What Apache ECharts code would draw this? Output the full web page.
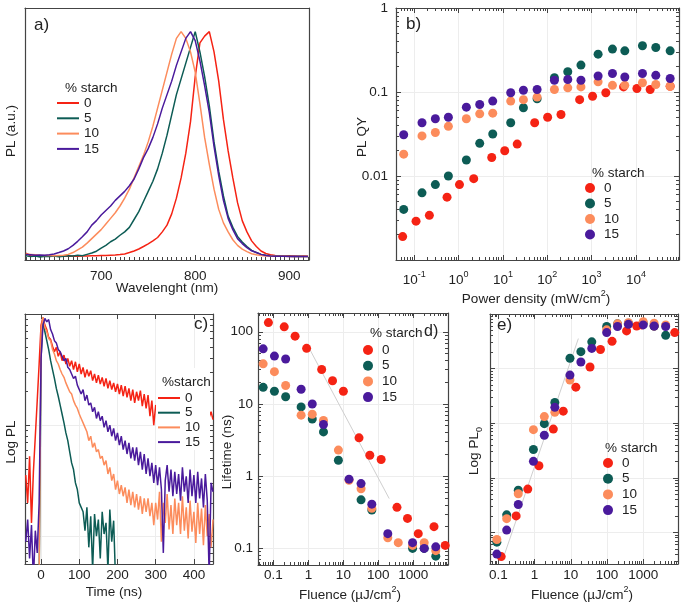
<!DOCTYPE html>
<html>
<head>
<meta charset="utf-8">
<script src="https://cdn.jsdelivr.net/npm/echarts@6/dist/echarts.min.js"></script>
<style>
  html, body { margin: 0; padding: 0; background: #fff; }
  #chart { width: 685px; height: 608px; }
</style>
</head>
<body>
<div id="chart"></div>
<script>
const FONT = '"Liberation Sans", Arial, sans-serif';
const INK = '#222';
const FRAME = '#444';
const GRIDLINE = '#ededed';
const colors = { s0: '#f52314', s5: '#0d5c55', s10: '#fc8c5c', s15: '#4a1a9c' };
const starch = ['0', '5', '10', '15'];

// a) PL spectra, sampled every 5 nm from 620 to 920 nm
const wavelength = [];
for (let w = 620; w <= 920; w += 5) wavelength.push(w);
const plRed = [
  0.015, 0.004, 0.003, 0.002, 0.003, 0.002, 0.002, 0.003, 0.002, 0.002,
  0.003, 0.002, 0.003, 0.003, 0.004, 0.004, 0.005, 0.005, 0.006, 0.007,
  0.009, 0.012, 0.018, 0.025, 0.034, 0.045, 0.057, 0.07, 0.085, 0.11,
  0.14, 0.19, 0.26, 0.35, 0.46, 0.60, 0.80, 0.95, 0.98, 1.00,
  0.91, 0.78, 0.61, 0.47, 0.35, 0.24, 0.16, 0.11, 0.07, 0.045,
  0.025, 0.014, 0.008, 0.005, 0.004, 0.003, 0.004, 0.003, 0.002, 0.003, 0.002];
const plGreen = [
  0.004, 0.0, 0.003, -0.002, 0.002, 0.0, 0.003, -0.001, 0.002, 0.004,
  0.003, 0.006, 0.004, 0.01, 0.016, 0.024, 0.038, 0.05, 0.066, 0.078,
  0.095, 0.11, 0.13, 0.165, 0.20, 0.245, 0.29, 0.335, 0.39, 0.46,
  0.54, 0.63, 0.72, 0.79, 0.86, 0.93, 1.00, 0.91, 0.80, 0.67,
  0.51, 0.38, 0.27, 0.18, 0.13, 0.09, 0.065, 0.045, 0.028, 0.018,
  0.01, 0.006, 0.004, 0.003, 0.003, 0.002, 0.002, 0.001, 0.002, 0.001, 0.001];
const plOrange = [
  0.012, 0.010, 0.008, 0.006, 0.005, 0.005, 0.004, 0.005, 0.006, 0.010,
  0.018, 0.030, 0.042, 0.060, 0.080, 0.10, 0.12, 0.145, 0.17, 0.195,
  0.225, 0.26, 0.30, 0.35, 0.40, 0.45, 0.51, 0.58, 0.66, 0.74,
  0.82, 0.90, 0.97, 1.00, 0.97, 0.91, 0.82, 0.68, 0.53, 0.41,
  0.30, 0.21, 0.15, 0.11, 0.075, 0.05, 0.033, 0.022, 0.013, 0.008,
  0.005, 0.003, 0.003, 0.002, 0.002, 0.002, 0.001, 0.002, 0.001, 0.001, 0.001];
const plPurple = [
  0.010, 0.008, 0.006, 0.007, 0.006, 0.008, 0.012, 0.018, 0.025, 0.035,
  0.050, 0.068, 0.088, 0.11, 0.14, 0.16, 0.185, 0.205, 0.225, 0.25,
  0.27, 0.29, 0.315, 0.345, 0.39, 0.44, 0.48, 0.53, 0.59, 0.66,
  0.72, 0.78, 0.85, 0.91, 0.97, 1.00, 0.96, 0.87, 0.76, 0.64,
  0.49, 0.36, 0.25, 0.17, 0.12, 0.08, 0.058, 0.04, 0.026, 0.018,
  0.010, 0.005, 0.003, 0.002, 0.002, 0.002, 0.001, 0.002, 0.001, 0.001, 0.001];

// b) PL QY vs power density (mW/cm2)
const bPowerRed = [0.055, 0.11, 0.22, 0.55, 1.05, 2.2, 5.6, 11, 21, 52, 102, 204, 537, 1050, 2090, 5250, 10500, 20900, 59000];
const bQyRed = [0.0019, 0.0029, 0.0034, 0.0056, 0.0079, 0.0093, 0.0166, 0.020, 0.024, 0.043, 0.050, 0.054, 0.081, 0.089, 0.098, 0.115, 0.110, 0.107, 0.117];
const bPower = [0.058, 0.15, 0.30, 0.59, 1.5, 3.0, 5.9, 15, 29, 59, 145, 290, 575, 1400, 2950, 5600, 14000, 28000, 59000];
const bQyGreen = [0.0040, 0.0063, 0.0079, 0.010, 0.0155, 0.0245, 0.0316, 0.043, 0.065, 0.083, 0.148, 0.174, 0.209, 0.282, 0.324, 0.309, 0.355, 0.339, 0.309];
const bQyOrange = [0.0182, 0.030, 0.033, 0.039, 0.048, 0.055, 0.056, 0.078, 0.081, 0.087, 0.107, 0.112, 0.115, 0.132, 0.120, 0.120, 0.129, 0.123, 0.117];
const bQyPurple = [0.031, 0.043, 0.048, 0.050, 0.066, 0.071, 0.078, 0.098, 0.105, 0.107, 0.138, 0.141, 0.138, 0.155, 0.166, 0.151, 0.166, 0.158, 0.145];

// c) log10 of PL counts, sampled every 5 ns from -40 to 450 ns
const timeNs = [];
for (let t = -40; t <= 450; t += 5) timeNs.push(t);
const logPlRed = [
  0.55, 0.30, 0.72, 0.12, 0.58, 0.90, 1.22, 1.55, 1.90, 1.97,
  1.90, 1.86, 1.79, 1.77, 1.71, 1.66, 1.70, 1.62, 1.66, 1.58,
  1.63, 1.55, 1.60, 1.53, 1.58, 1.50, 1.57, 1.48, 1.55, 1.46,
  1.52, 1.43, 1.50, 1.44, 1.49, 1.40, 1.46, 1.38, 1.45, 1.37,
  1.43, 1.35, 1.42, 1.33, 1.40, 1.32, 1.38, 1.30, 1.37, 1.28,
  1.36, 1.26, 1.35, 1.25, 1.33, 1.22, 1.32, 1.20, 1.30, 1.22,
  1.31, 1.17, 1.28, 1.15, 1.27, 1.08, 1.22, 1.00, 1.18, 1.14,
  1.22, 1.10, 1.20, 1.12, 1.19, 1.08, 1.18, 1.10, 1.16, 1.06,
  1.15, 1.08, 1.14, 1.04, 1.13, 1.06, 1.12, 1.02, 1.11, 1.04,
  1.10, 1.00, 1.09, 1.02, 1.08, 0.98, 1.07, 1.12, 1.05];
const logPlGreen = [
  null, null, null, null, null, null, null, -0.40, 1.60, 1.95,
  1.84, 1.76, 1.68, 1.58, 1.50, 1.42, 1.33, 1.26, 1.18, 1.10,
  1.02, 0.93, 0.86, 0.76, 0.66, 0.60, 0.48, 0.42, 0.30, 0.30,
  0.22, 0.05, 0.26, -0.10, 0.18, -0.30, 0.20, 0.00, 0.15, -0.20,
  0.22, 0.02, 0.12, -0.30, 0.24, -0.05, 0.14, -0.40];
const logPlOrange = [
  null, null, null, null, null, null, null, -0.40, 1.85, 1.97,
  1.88, 1.84, 1.78, 1.76, 1.68, 1.64, 1.58, 1.55, 1.50, 1.46,
  1.43, 1.38, 1.34, 1.30, 1.28, 1.22, 1.18, 1.15, 1.10, 1.06,
  1.02, 0.98, 0.94, 0.86, 0.90, 0.80, 0.84, 0.76, 0.78, 0.70,
  0.72, 0.64, 0.68, 0.56, 0.62, 0.50, 0.56, 0.42, 0.50, 0.38,
  0.46, 0.36, 0.44, 0.30, 0.42, 0.28, 0.40, 0.26, 0.38, 0.24,
  0.36, 0.20, 0.34, 0.22, 0.34, 0.18, 0.30, 0.10, 0.30, 0.15,
  0.40, -0.05, 0.30, 0.12, 0.38, 0.06, 0.28, 0.02, 0.34, 0.10,
  0.30, 0.02, 0.36, 0.05, 0.26, -0.02, 0.32, 0.04, 0.22, -0.06,
  0.30, 0.02, 0.25, -0.08, 0.28, 0.00, 0.20, -0.10, 0.15];
const logPlPurple = [
  -0.05, 0.15, -0.20, 0.10, -0.40, 0.05, -0.15, 0.30, 1.60, 1.90,
  1.96, 1.93, 1.95, 1.86, 1.82, 1.76, 1.74, 1.68, 1.66, 1.62,
  1.58, 1.60, 1.52, 1.50, 1.46, 1.42, 1.44, 1.36, 1.36, 1.28,
  1.32, 1.22, 1.27, 1.18, 1.20, 1.12, 1.16, 1.06, 1.12, 1.04,
  1.08, 0.98, 1.04, 0.94, 1.00, 0.90, 0.97, 0.86, 0.93, 0.82,
  0.90, 0.78, 0.86, 0.74, 0.84, 0.70, 0.80, 0.68, 0.80, 0.64,
  0.76, 0.60, 0.74, 0.56, 0.70, 0.54, 0.66, 0.48, 0.64, 0.46,
  0.62, 0.42, -0.15, 0.50, 0.64, 0.40, 0.60, 0.36, 0.58, 0.38,
  0.56, 0.32, 0.62, 0.40, 0.54, 0.30, 0.60, 0.36, 0.55, 0.30,
  0.58, 0.34, 0.52, 0.26, 0.56, 0.32, -0.35, 0.48, 0.40];

// d) lifetime (ns) vs fluence (uJ/cm2)
const dFluenceRed = [0.072, 0.204, 0.417, 0.89, 2.4, 4.9, 10, 28, 57, 120, 340, 680, 1380, 3890, 8130];
const dLifeRed = [134, 117, 87, 59, 30, 21, 15, 3.4, 1.95, 1.7, 0.37, 0.26, 0.16, 0.20, 0.11];
const dFluence = [0.051, 0.107, 0.224, 0.62, 1.29, 2.7, 7.2, 14.5, 32, 65, 186, 370, 950, 2040, 4370];
const dLifeGreen = [17, 15, 12.6, 9.1, 6.2, 4.1, 1.66, null, 0.47, 0.34, null, null, 0.10, 0.10, 0.078];
const dLifeOrange = [36, 28, 18, 7.0, 7.2, 5.9, 2.3, 0.88, 0.67, 0.36, 0.14, 0.12, 0.11, 0.12, 0.093];
const dLifePurple = [58, 46, 42, 16, 10, 5.2, null, 0.91, 0.79, 0.41, 0.16, null, 0.12, 0.10, 0.105];
const dGuideFluence = [1.0, 204];
const dGuideLife = [62, 0.49];

// e) PL0 (a.u.) vs fluence (uJ/cm2)
const eFluenceRed = [0.12, 0.31, 0.65, 1.32, 3.3, 6.2, 13.8, 34, 66, 138, 347, 660, 910, 2000, 7400];
const ePl0Red = [0.36, 2.0, 6.2, 16.6, 78, 166, 457, 1070, 2240, 3160, 4900, 6030, 6310, 6030, 4570];
const eFluence = [0.091, 0.17, 0.355, 0.93, 1.86, 3.63, 9.5, 19, 38, 98, 195, 390, 1000, 2000, 4170];
const ePl0Green = [0.66, 2.09, 5.9, 33, 98, 240, 1550, 2040, 3090, 5890, 6610, 6760, 6760, 6030, 4070];
const ePl0Orange = [0.74, 1.78, 5.1, 76, 132, 158, 617, null, null, 5130, 6610, 6920, 7240, 6760, 6310];
const ePl0Purple = [0.40, 1.10, 3.24, 20, 60, 195, 759, 1320, 2340, 4570, 5890, 6460, 6310, 6030, 5890];
const eGuideFluence = [0.135, 16.2];
const eGuidePl0 = [0.33, 3550];

const lg = Math.log10;
const txt = { color: INK, fontSize: 13.5, fontFamily: FONT };
const richSup = {
  n: { color: INK, fontSize: 13.5, fontFamily: FONT, lineHeight: 20 },
  s: { color: INK, fontSize: 9, fontFamily: FONT, lineHeight: 10, verticalAlign: 'top' },
  u: { color: INK, fontSize: 9, fontFamily: FONT, lineHeight: 10, verticalAlign: 'bottom' }
};

function logMinors(min, max) {
  const out = [];
  for (let d = Math.floor(min); d <= Math.ceil(max); d++) {
    for (let k = 2; k <= 9; k++) {
      const v = d + lg(k);
      if (v > min && v < max) out.push(v);
    }
  }
  return out;
}

const decadeLabel = v => ({ '-2': '0.01', '-1': '0.1', '0': '1', '1': '10', '2': '100', '3': '1000' })[Math.round(v)];

const xAxes = [];
const yAxes = [];

// main axis (labels, major ticks) + mirror on the opposite side + minor tick layers
function addAxes(list, dim, grid, spec) {
  const sides = dim === 'x' ? ['bottom', 'top'] : ['left', 'right'];
  const mainIndex = list.length;
  sides.forEach((side, i) => {
    const isMain = i === 0;
    const ticks = spec.major && (isMain || spec.mirror);
    list.push({
      type: 'value', gridIndex: grid, position: side, min: spec.min, max: spec.max,
      axisLine: { show: true, onZero: false, lineStyle: { color: FRAME, width: 1.2 } },
      axisTick: ticks ? { show: true, inside: true, length: 5, customValues: spec.major, lineStyle: { color: FRAME } } : { show: false },
      axisLabel: isMain && spec.format ? Object.assign({
        show: true, customValues: spec.labels || spec.major, formatter: spec.format,
        margin: spec.margin, rich: richSup
      }, txt) : { show: false },
      splitLine: isMain && spec.grid ? { show: true, lineStyle: { color: GRIDLINE, width: 1 } } : { show: false }
    });
    if (spec.minor && ticks) {
      list.push({
        type: 'value', gridIndex: grid, position: side, min: spec.min, max: spec.max,
        axisLine: { show: false, onZero: false },
        axisTick: { show: true, inside: true, length: 3, customValues: spec.minor, lineStyle: { color: FRAME } },
        axisLabel: { show: false },
        splitLine: { show: false }
      });
    }
  });
  return mainIndex;
}

const aMinor = [];
for (let w = 620; w <= 920; w += 5) if (w % 100 !== 0) aMinor.push(w);

const ax = {
  a: [addAxes(xAxes, 'x', 0, { min: 619, max: 921, major: [700, 800, 900], minor: aMinor, format: v => String(v), margin: 9 }),
      addAxes(yAxes, 'y', 0, { min: -0.015, max: 1.105 })],
  b: [addAxes(xAxes, 'x', 1, { min: -1.41, max: 4.97, major: [-1, 0, 1, 2, 3, 4], minor: logMinors(-1.41, 4.97), mirror: true, grid: true,
        format: v => '{n|10}{s|' + Math.round(v) + '}', margin: 10 }),
      addAxes(yAxes, 'y', 1, { min: -3, max: 0, major: [-3, -2, -1, 0], labels: [-2, -1, 0], minor: logMinors(-3, 0), mirror: true, grid: true,
        format: decadeLabel, margin: 8 })],
  c: [addAxes(xAxes, 'x', 2, { min: -42, max: 450, major: [0, 100, 200, 300, 400], mirror: true, grid: true,
        format: v => String(v), margin: 4 }),
      addAxes(yAxes, 'y', 2, { min: -0.25, max: 2, major: [0, 1, 2], minor: logMinors(-0.25, 2), mirror: true, grid: true })],
  d: [addAxes(xAxes, 'x', 3, { min: -1.44, max: 3.99, major: [-1, 0, 1, 2, 3], minor: logMinors(-1.44, 3.99), mirror: true, grid: true,
        format: decadeLabel, margin: 3 }),
      addAxes(yAxes, 'y', 3, { min: -1.23, max: 2.26, major: [-1, 0, 1, 2], minor: logMinors(-1.23, 2.26), mirror: true, grid: true,
        format: decadeLabel, margin: 5 })],
  e: [addAxes(xAxes, 'x', 4, { min: -1.23, max: 3.96, major: [-1, 0, 1, 2, 3], minor: logMinors(-1.23, 3.96), mirror: true, grid: true,
        format: decadeLabel, margin: 4 }),
      addAxes(yAxes, 'y', 4, { min: -0.58, max: 4, major: [0, 1, 2, 3, 4], minor: logMinors(-0.58, 4), mirror: true, grid: true })]
};

const pairs = (xs, ys, fx, fy) => xs.map((x, i) => ys[i] == null ? null : [fx(x), fy(ys[i])]).filter(p => p);
const same = v => v;
const palette = [colors.s0, colors.s5, colors.s10, colors.s15];

const series = [];
function lines(panel, xs, ysList) {
  ysList.forEach((ys, k) => series.push({
    name: panel + ' ' + starch[k], type: 'line', xAxisIndex: ax[panel][0], yAxisIndex: ax[panel][1],
    symbol: 'none', color: palette[k], lineStyle: { width: 1.5, color: palette[k] },
    data: pairs(xs, ys, same, same), animation: false
  }));
}
function dots(panel, xsList, ysList, fy) {
  ysList.forEach((ys, k) => series.push({
    name: panel + ' ' + starch[k], type: 'scatter', xAxisIndex: ax[panel][0], yAxisIndex: ax[panel][1],
    symbolSize: 9, itemStyle: { color: palette[k], opacity: 1 },
    data: pairs(xsList[k], ys, lg, fy), animation: false
  }));
}
function guide(panel, xs, ys) {
  series.push({
    type: 'line', xAxisIndex: ax[panel][0], yAxisIndex: ax[panel][1], symbol: 'none', silent: true,
    lineStyle: { color: '#cfcfcf', width: 1 }, data: pairs(xs, ys, lg, lg), z: 1, animation: false
  });
}

lines('a', wavelength, [plRed, plGreen, plOrange, plPurple]);
dots('b', [bPowerRed, bPower, bPower, bPower], [bQyRed, bQyGreen, bQyOrange, bQyPurple], lg);
lines('c', timeNs, [logPlRed, logPlGreen, logPlOrange, logPlPurple]);
guide('d', dGuideFluence, dGuideLife);
dots('d', [dFluenceRed, dFluence, dFluence, dFluence], [dLifeRed, dLifeGreen, dLifeOrange, dLifePurple], lg);
guide('e', eGuideFluence, eGuidePl0);
dots('e', [eFluenceRed, eFluence, eFluence, eFluence], [ePl0Red, ePl0Green, ePl0Orange, ePl0Purple], lg);

function legendFor(panel, left, top, gap, isLine) {
  return {
    orient: 'vertical', left: left, top: top, padding: 0, z: 60,
    itemWidth: isLine ? 22 : 18, itemHeight: isLine ? 14 : 10, itemGap: gap,
    icon: isLine ? 'path://M0,0H22V2H0Z' : 'circle',
    data: starch.map(s => panel + ' ' + s),
    formatter: n => n.split(' ')[1],
    textStyle: txt, selectedMode: false
  };
}

function label(text, left, top, size) {
  return { text: text, left: left, top: top, padding: 0, z: 60,
    textStyle: { color: INK, fontSize: size, fontWeight: 'normal', fontFamily: FONT } };
}

// axis titles, centred on the given point (vertical ones read bottom-to-top)
function axisTitle(text, x, y, vertical) {
  return {
    type: 'text', x: x, y: y, rotation: vertical ? Math.PI / 2 : 0, z: 60,
    style: { text: text, rich: richSup, fill: INK, fontSize: 13.5, fontFamily: FONT,
      align: 'center', verticalAlign: 'middle', textAlign: 'center', textVerticalAlign: 'middle' }
  };
}

const chart = echarts.init(document.getElementById('chart'));
chart.setOption({
  animation: false,
  backgroundColor: '#fff',
  grid: [
    { left: 25, top: 8, width: 284, height: 252 },
    { left: 396, top: 8, width: 283, height: 252 },
    { left: 25, top: 314, width: 188, height: 250 },
    { left: 258, top: 313, width: 190, height: 252 },
    { left: 490, top: 314, width: 188, height: 250 }
  ],
  xAxis: xAxes,
  yAxis: yAxes,
  title: [
    label('a)', 34, 17, 17), label('b)', 406, 16, 17), label('c)', 194, 316, 17),
    label('d)', 424, 324, 16), label('e)', 497, 317, 17),
    label('% starch', 65, 81, 13.5), label('% starch', 592, 166, 13.5), label('%starch', 162, 375, 13.5),
    label('% starch', 370, 326, 13.5), label('% starch', 605, 441, 13.5)
  ],
  legend: [
    legendFor('a', 57, 96, 1.3, true),
    legendFor('b', 585, 181, 1.5, false),
    legendFor('c', 158, 391, 0.7, true),
    legendFor('d', 363, 343, 1.7, false),
    legendFor('e', 603, 456, 1.7, false)
  ],
  graphic: [
    { type: 'rect', left: 156, top: 368, shape: { width: 54, height: 82 }, style: { fill: '#fff' }, z: 50 },
    axisTitle('{n|Wavelenght (nm)}', 167, 288, false),
    axisTitle('{n|PL (a.u.)}', 11, 131, true),
    axisTitle('{n|Power density (mW/cm}{s|2}{n|)}', 536, 299, false),
    axisTitle('{n|PL QY}', 362, 137, true),
    axisTitle('{n|Time (ns)}', 114, 592, false),
    axisTitle('{n|Log PL}', 11, 442, true),
    axisTitle('{n|Fluence (µJ/cm}{s|2}{n|)}', 350, 595, false),
    axisTitle('{n|Lifetime (ns)}', 227, 452, true),
    axisTitle('{n|Fluence (µJ/cm}{s|2}{n|)}', 582, 595, false),
    axisTitle('{n|Log PL}{u|0}', 474, 451, true)
  ],
  series: series
});
</script>
</body>
</html>
